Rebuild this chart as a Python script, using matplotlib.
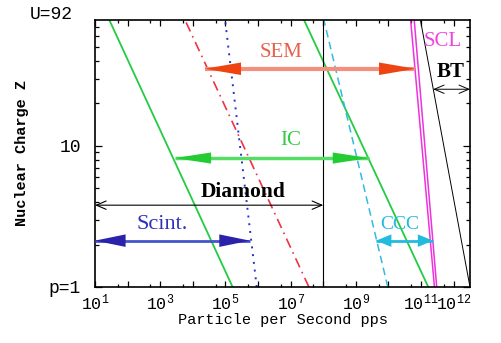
import numpy as np
from matplotlib import pyplot as plt
from matplotlib.ticker import FixedLocator, FixedFormatter, NullFormatter

plt.rcParams["mathtext.fontset"] = "custom"
plt.rcParams["mathtext.rm"] = "Liberation Mono"
plt.rcParams["mathtext.it"] = "Liberation Mono"

# axis ranges (pps, Z)
x_range = [1e1, 10**12.5]
z_range = [1, 78]

# rate limit lines: log10(pps) at Z=1 and at the top of the plot
z_ends = [1, 78]
lines = {
    "green_left": ([5.22, 1.44], "#22cc44", "-", 1.3),
    "red_dashdot": ([7.56, 3.76], "#ee3344", (0, (6, 3, 1, 3)), 1.2),
    "blue_dotted": ([5.96, 4.99], "#2233cc", (0, (1, 3)), 1.4),
    "green_right": ([11.22, 7.41], "#22cc44", "-", 1.3),
    "cyan_dashed": ([9.98, 8.02], "#33bbdd", (0, (5, 3)), 1.1),
    "scl_a": ([11.41, 10.68], "#ee33dd", "-", 1.1),
    "scl_b": ([11.48, 10.79], "#ee33dd", "-", 1.1),
    "bt": ([12.5, 10.98], "black", "-", 0.7),
}

# detector ranges: label, Z of arrow, log10 pps from / to
detectors = ["SEM", "IC", "Diamond", "Scint.", "CCC", "BT"]
det_z = [35.2, 8.2, 3.8, 2.13, 2.13, 25.2]
det_from = [4.37, 3.45, 1.0, 1.0, 9.62, 11.37]
det_to = [10.82, 9.40, 8.0, 5.75, 11.37, 12.5]

x_tick_exp = list(range(1, 13))
x_tick_lab = ["$10^{1}$", "", "$10^{3}$", "", "$10^{5}$", "", "$10^{7}$", "",
              "$10^{9}$", "", "$10^{11}$", "$10^{12}$"]

fig = plt.figure(figsize=(5.01, 3.43), dpi=100)
ax = fig.add_axes([0.1896, 0.1633, 0.7485, 0.7784])
ax.set_xscale("log")
ax.set_yscale("log")
ax.set_xlim(*x_range)
ax.set_ylim(*z_range)

for name, (lx, col, ls, lw) in lines.items():
    ax.plot(10 ** np.array(lx), z_ends, color=col, ls=ls, lw=lw)

# diamond limit (vertical)
ax.plot([10 ** det_to[2]] * 2, z_range, color="black", lw=0.8)


def arrow(i, color, shaft, lw, hl, hw, style="<|-|>"):
    x0, x1 = 10 ** det_from[i], 10 ** det_to[i]
    z = det_z[i]
    if shaft is not None:
        ax.plot([x0, x1], [z, z], color=shaft, lw=lw, solid_capstyle="butt", zorder=3)
    ax.annotate("", xy=(x1, z), xytext=(x0, z),
                arrowprops=dict(arrowstyle=f"{style},head_length={hl},head_width={hw}",
                                color=color, lw=lw if shaft is None else 0.01,
                                shrinkA=0, shrinkB=0, mutation_scale=1),
                zorder=4)


arrow(0, "#ee4411", "#f49080", 3.0, 26, 4.5)
arrow(1, "#22cc33", "#55dd66", 2.5, 26, 4.0)
arrow(2, "black", None, 0.8, 7, 3, style="<->")
arrow(3, "#2a22aa", "#4455cc", 2.0, 22, 4.5)
arrow(4, "#22bbdd", "#22bbdd", 2.0, 11, 4.5)
arrow(5, "black", None, 0.7, 7, 3, style="<->")

serif = "Liberation Serif"
ax.text(10 ** 6.7, 46, "SEM", color="#e8604a", fontsize=15, family=serif, ha="center", va="center")
ax.text(10 ** 7.0, 11.0, "IC", color="#33cc44", fontsize=15, family=serif, ha="center", va="center")
ax.text(10 ** 5.55, 4.7, "Diamond", color="black", fontsize=15.5, family=serif,
        weight="bold", ha="center", va="center")
ax.text(10 ** 3.05, 2.75, "Scint.", color="#3030bb", fontsize=16, family=serif, ha="center", va="center")
ax.text(10 ** 10.35, 2.75, "CCC", color="#22bbdd", fontsize=14, family=serif, ha="center", va="center")
ax.text(10 ** 11.65, 55, "SCL", color="#ee44dd", fontsize=15, family=serif, ha="center", va="center")
ax.text(10 ** 11.9, 33.5, "BT", color="black", fontsize=15, family=serif,
        weight="bold", ha="center", va="center")

mono = "Liberation Mono"
ax.xaxis.set_major_locator(FixedLocator([10.0 ** e for e in x_tick_exp]))
ax.xaxis.set_major_formatter(FixedFormatter(x_tick_lab))
ax.xaxis.set_minor_locator(FixedLocator([5 * 10.0 ** e for e in range(1, 12)]))
ax.xaxis.set_minor_formatter(NullFormatter())
ax.yaxis.set_major_locator(FixedLocator([1, 10]))
ax.yaxis.set_major_formatter(FixedFormatter(["p=1", "10"]))
ax.yaxis.set_minor_locator(FixedLocator([2, 3, 4, 5, 6, 7, 8, 9, 20, 30, 40, 50, 60, 70]))
ax.yaxis.set_minor_formatter(NullFormatter())

ax.tick_params(axis="both", which="both", direction="in", top=True, right=True, width=0.9)
ax.tick_params(axis="x", which="major", length=4, labelsize=12, pad=4)
ax.tick_params(axis="x", which="minor", length=2.5)
ax.tick_params(axis="y", which="major", length=5, labelsize=13, pad=10)
ax.tick_params(axis="y", which="minor", length=3)
for lab in ax.get_xticklabels() + ax.get_yticklabels():
    lab.set_family(mono)
for sp in ax.spines.values():
    sp.set_linewidth(1.2)

ax.text(-0.117, 1.02, "U=92", transform=ax.transAxes, fontsize=13, family=mono,
        ha="center", va="center")

ax.set_xlabel("Particle per Second pps", family=mono, fontsize=11, labelpad=0)
ax.set_ylabel("Nuclear Charge Z", family=mono, fontsize=11, weight="bold", labelpad=14)

fig.savefig("out.png", dpi=100)
